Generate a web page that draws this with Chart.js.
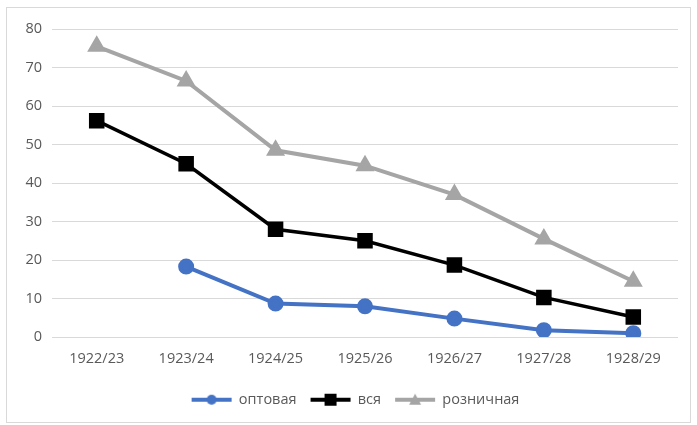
<!DOCTYPE html>
<html>
<head>
<meta charset="utf-8">
<script src="https://cdn.jsdelivr.net/npm/chart.js@4"></script>
<style>
  body { margin: 0; background: #fff; }
  #box { position: absolute; left: 6px; top: 7px; width: 683px; height: 414px; border: 1px solid #d9d9d9; }
</style>
</head>
<body>
<div id="box"><canvas id="chart" width="683" height="414"></canvas></div>
<script>
// годы
const years = ['1922/23', '1923/24', '1924/25', '1925/26', '1926/27', '1927/28', '1928/29'];
// значения по рядам
const optovaya = [null, 18.3, 8.7, 8.0, 4.8, 1.8, 1.0];
const vsya = [56.2, 45.0, 28.0, 25.0, 18.7, 10.3, 5.2];
const roznichnaya = [75.5, 66.5, 48.5, 44.5, 37.0, 25.5, 14.5];
const yTicks = [0, 10, 20, 30, 40, 50, 60, 70, 80];

const FONT = { family: 'Open Sans', size: 14.5 };

// картинка для легенды: линия с маркером
function legendIcon(color, style) {
    const c = document.createElement('canvas');
    c.width = 50; c.height = 14;
    const ctx = c.getContext('2d');
    ctx.strokeStyle = color;
    ctx.fillStyle = color;
    ctx.lineWidth = 4;
    ctx.beginPath();
    ctx.moveTo(5, 7); ctx.lineTo(45, 7);
    ctx.stroke();
    ctx.beginPath();
    if (style === 'circle') {
        ctx.arc(25, 7, 5, 0, Math.PI * 2);
    } else if (style === 'rect') {
        ctx.rect(19, 1, 12, 12);
    } else {
        ctx.moveTo(25, 1); ctx.lineTo(31, 12); ctx.lineTo(19, 12); ctx.closePath();
    }
    ctx.fill();
    return c;
}

// легенда в оригинале чуть правее центра
const shiftLegend = {
    id: 'shiftLegend',
    afterLayout(chart) {
        chart.legend.left += 10;
        chart.legend.right += 10;
    }
};

const ctx = document.getElementById('chart').getContext('2d');
new Chart(ctx, {
    type: 'line',
    data: {
        labels: years,
        datasets: [{
            label: 'оптовая',
            data: optovaya,
            borderColor: '#4472c4',
            backgroundColor: '#4472c4',
            borderWidth: 4,
            pointStyle: 'circle',
            pointRadius: 6,
            pointHoverRadius: 6
        }, {
            label: 'вся',
            data: vsya,
            borderColor: '#000000',
            backgroundColor: '#000000',
            borderWidth: 3.5,
            pointStyle: 'rect',
            pointRadius: 8.5,
            pointHoverRadius: 8.5
        }, {
            label: 'розничная',
            data: roznichnaya,
            borderColor: '#a5a5a5',
            backgroundColor: '#a5a5a5',
            borderWidth: 4,
            pointStyle: 'triangle',
            pointRadius: 7,
            pointHoverRadius: 7
        }]
    },
    plugins: [shiftLegend],
    options: {
        responsive: false,
        animation: false,
        layout: { padding: { top: 21, right: 6, left: 0, bottom: 5 } },
        plugins: {
            tooltip: { enabled: false },
            legend: {
                position: 'bottom',
                labels: {
                    usePointStyle: true,
                    pointStyleWidth: 40,
                    boxHeight: 14,
                    color: '#595959',
                    font: FONT,
                    padding: 14,
                    generateLabels: function (chart) {
                        const shapes = ['circle', 'rect', 'triangle'];
                        return chart.data.datasets.map((ds, i) => ({
                            text: ds.label,
                            fontColor: '#595959',
                            pointStyle: legendIcon(ds.borderColor, shapes[i]),
                            datasetIndex: i,
                            hidden: false,
                            lineWidth: 0
                        }));
                    }
                }
            }
        },
        scales: {
            x: {
                offset: true,
                afterFit: function (scale) { scale.height += 6; },
                grid: { display: false },
                border: { display: false },
                ticks: { color: '#595959', font: FONT, padding: 5, maxRotation: 0 }
            },
            y: {
                min: 0,
                max: 80,
                afterFit: function (scale) { scale.width = 45; },
                afterBuildTicks: function (scale) { scale.ticks = yTicks.map(v => ({ value: v })); },
                grid: { color: '#d9d9d9', drawTicks: false },
                border: { display: false },
                ticks: { color: '#595959', font: FONT, padding: 10 }
            }
        }
    }
});
</script>
</body>
</html>
